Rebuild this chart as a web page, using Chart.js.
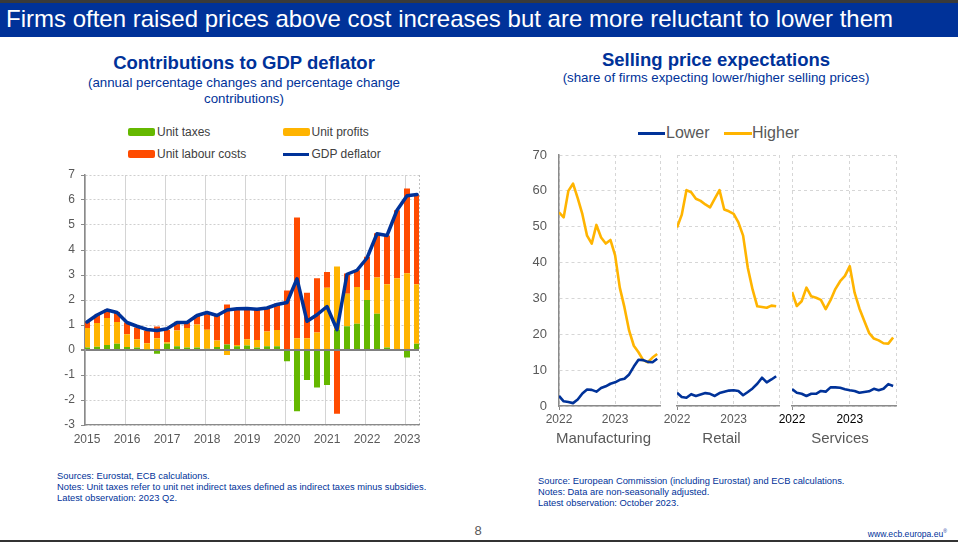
<!DOCTYPE html>
<html><head><meta charset="utf-8">
<script src="https://cdn.jsdelivr.net/npm/chart.js@4.4.0/dist/chart.umd.min.js"></script>
<style>
html,body{margin:0;padding:0;}
body{width:958px;height:542px;overflow:hidden;background:#fff;position:relative;font-family:"Liberation Sans",Arial,sans-serif;}
.a{position:absolute;white-space:nowrap;}
canvas{position:absolute;}
.t{color:#003299;}
.box{position:absolute;width:27px;height:8px;border-radius:2px;}
.lg{position:absolute;font-size:12px;color:#404040;line-height:14px;}
.lg2{position:absolute;font-size:16px;color:#595959;line-height:18px;}
.fn{position:absolute;font-size:9.35px;color:#003299;line-height:11px;white-space:nowrap;}
.pn{position:absolute;font-size:15px;color:#595959;line-height:18px;text-align:center;width:140px;}
</style></head><body>
<div class="a" style="left:0;top:0;width:958px;height:3px;background:#3a3a3a;"></div>
<div class="a" style="left:0;top:3px;width:958px;height:34px;background:#003299;"></div>
<div class="a" style="left:6px;top:5px;font-size:24px;line-height:28px;color:#fff;">Firms often raised prices above cost increases but are more reluctant to lower them</div>

<div class="a t" style="left:64px;width:360px;text-align:center;top:52px;font-size:18.5px;font-weight:bold;line-height:22px;">Contributions to GDP deflator</div>
<div class="a t" style="left:64px;width:360px;text-align:center;top:75px;font-size:13.3px;line-height:16px;white-space:normal;">(annual percentage changes and percentage change<br>contributions)</div>

<div class="a t" style="left:536px;width:360px;text-align:center;top:49px;font-size:18.5px;font-weight:bold;line-height:22px;">Selling price expectations</div>
<div class="a t" style="left:536px;width:360px;text-align:center;top:70px;font-size:13.3px;line-height:16px;">(share of firms expecting lower/higher selling prices)</div>

<div class="box" style="left:128px;top:127.5px;background:#65b800;"></div>
<div class="lg" style="left:157px;top:124.5px;">Unit taxes</div>
<div class="box" style="left:283px;top:127.5px;background:#ffb400;"></div>
<div class="lg" style="left:311.5px;top:124.5px;">Unit profits</div>
<div class="box" style="left:128px;top:150px;background:#ff4b00;"></div>
<div class="lg" style="left:157px;top:147px;">Unit labour costs</div>
<div class="a" style="left:283px;top:152.5px;width:26px;height:3px;background:#003299;"></div>
<div class="lg" style="left:311.5px;top:147px;">GDP deflator</div>

<div class="a" style="left:638px;top:131.5px;width:27px;height:3px;background:#003299;"></div>
<div class="lg2" style="left:666px;top:124px;">Lower</div>
<div class="a" style="left:724px;top:131.5px;width:28px;height:3px;background:#ffb400;"></div>
<div class="lg2" style="left:752px;top:124px;">Higher</div>

<canvas id="left" width="400" height="290" style="left:30px;top:165px;width:400px;height:290px;"></canvas>
<canvas id="p1" width="160" height="291" style="left:510px;top:145px;width:160px;height:291px;"></canvas>
<canvas id="p2" width="128" height="291" style="left:661px;top:145px;width:128px;height:291px;"></canvas>
<canvas id="p3" width="130" height="291" style="left:776px;top:145px;width:130px;height:291px;"></canvas>

<div class="pn" style="left:533.5px;top:429px;">Manufacturing</div>
<div class="pn" style="left:651.5px;top:429px;">Retail</div>
<div class="pn" style="left:770px;top:429px;">Services</div>

<div class="fn" style="left:57px;top:470.5px;">Sources: Eurostat, ECB calculations.<br>Notes: Unit taxes refer to unit net indirect taxes defined as indirect taxes minus subsidies.<br>Latest observation: 2023 Q2.</div>
<div class="fn" style="left:538px;top:475.5px;">Source: European Commission (including Eurostat) and ECB calculations.<br>Notes: Data are non-seasonally adjusted.<br>Latest observation: October 2023.</div>

<div class="a" style="left:470px;top:523px;width:16px;text-align:center;font-size:13px;line-height:16px;color:#595959;">8</div>
<div class="a" style="left:800px;width:147px;text-align:right;top:526px;font-size:8.6px;line-height:10px;color:#003299;">www.ecb.europa.eu<sup style="font-size:5px;">®</sup></div>
<div class="a" style="left:0;top:540px;width:958px;height:2px;background:#333;"></div>

<script>
// ---------- Data: contributions to GDP deflator ----------
const quarters = ["2015 Q1","2015 Q2","2015 Q3","2015 Q4","2016 Q1","2016 Q2","2016 Q3","2016 Q4",
  "2017 Q1","2017 Q2","2017 Q3","2017 Q4","2018 Q1","2018 Q2","2018 Q3","2018 Q4",
  "2019 Q1","2019 Q2","2019 Q3","2019 Q4","2020 Q1","2020 Q2","2020 Q3","2020 Q4",
  "2021 Q1","2021 Q2","2021 Q3","2021 Q4","2022 Q1","2022 Q2","2022 Q3","2022 Q4",
  "2023 Q1","2023 Q2"];
const unitTaxes = [0.10,0.13,0.20,0.25,0.12,0.10,0.03,-0.15,0.25,0.15,0.10,0.10,0.05,0.12,0.22,0.15,
  0.18,0.10,0.15,0.15,-0.45,-2.45,-1.20,-1.50,-1.40,0.80,0.95,1.05,2.00,1.45,0.10,0.00,-0.30,0.25];
const unitProfits = [0.78,0.95,1.08,0.87,0.51,0.33,0.24,0.47,0.06,0.63,0.78,0.92,0.76,0.26,-0.20,0.05,
  0.25,0.30,0.59,0.65,0.00,0.47,0.47,0.70,2.49,2.54,1.30,1.47,0.40,1.45,2.53,2.87,3.07,2.38];
const unitLabourCosts = [0.26,0.33,0.34,0.40,0.47,0.47,0.50,0.47,0.49,0.35,0.22,0.38,0.71,1.01,1.60,1.48,
  1.25,1.22,0.94,1.06,2.38,4.83,1.82,2.17,0.63,-2.55,0.81,0.67,1.33,1.77,1.95,2.72,3.39,3.59];
const gdpDeflator = [1.12,1.40,1.60,1.50,1.10,0.95,0.82,0.78,0.85,1.10,1.10,1.38,1.50,1.38,1.60,1.65,
  1.66,1.63,1.68,1.82,1.90,2.85,1.15,1.41,1.74,0.81,3.03,3.19,3.68,4.65,4.58,5.59,6.17,6.22];
const yearTicks = [2015,2016,2017,2018,2019,2020,2021,2022,2023];
const leftYTicks = [-3,-2,-1,0,1,2,3,4,5,6,7];

// ---------- Data: selling price expectations (Jan 2022 - Oct 2023) ----------
const months = ["2022-01","2022-02","2022-03","2022-04","2022-05","2022-06","2022-07","2022-08","2022-09","2022-10","2022-11","2022-12",
  "2023-01","2023-02","2023-03","2023-04","2023-05","2023-06","2023-07","2023-08","2023-09","2023-10"];
const manufLower  = [2.8,1.3,1.1,0.8,1.8,3.5,4.6,4.5,4.0,5.0,5.5,6.2,6.6,7.3,7.6,8.8,11.0,12.9,12.8,12.3,12.2,13.2];
const manufHigher = [54.0,52.6,60.0,62.0,58.0,53.5,47.5,45.3,50.5,47.0,45.3,46.3,42.0,33.0,27.5,21.0,16.8,15.0,12.8,12.2,13.5,14.5];
const retailLower  = [3.7,2.5,2.3,3.3,2.8,3.2,3.6,3.4,2.8,3.6,4.0,4.3,4.4,4.2,3.0,3.9,4.9,6.2,7.9,6.6,7.4,8.3];
const retailHigher = [49.8,53.3,60.2,59.6,57.8,57.2,56.2,55.4,57.8,60.2,54.8,54.3,53.6,51.2,47.5,38.5,32.5,27.8,27.6,27.4,28.0,27.8];
const servLower  = [4.7,3.7,3.4,2.8,3.4,3.4,4.2,4.0,5.2,5.2,5.1,4.7,4.4,4.2,3.7,3.9,4.1,4.8,4.4,4.8,6.1,5.6];
const servHigher = [31.8,27.9,29.2,33.0,30.6,30.2,29.6,27.0,29.5,32.6,34.8,36.3,39.0,31.6,27.2,23.8,20.4,18.8,18.3,17.5,17.4,19.1];
const panelYearLabels = ["2022","2023"];

// ---------- Rendering ----------
Chart.defaults.font.family = "'Liberation Sans', Arial, sans-serif";
const BLUE = '#003299', YELLOW = '#ffb400', ORANGE = '#ff4b00', GREEN = '#65b800';

const qx = quarters.map(s => { const p = s.split(' Q'); return +p[0] + (+p[1] - 1) / 4 + 0.05; });
const qpts = arr => arr.map((v, i) => ({x: qx[i], y: v}));
const XMAX_L = 2023.35;

new Chart(document.getElementById('left'), {
  type: 'bar',
  data: {datasets: [
    {type: 'line', label: 'GDP deflator', data: qpts(gdpDeflator), borderColor: BLUE, borderWidth: 3.5,
     pointRadius: 0, tension: 0, stack: 'line', order: 0, borderJoinStyle: 'round', borderCapStyle: 'round'},
    {label: 'Unit taxes', data: qpts(unitTaxes), backgroundColor: GREEN, stack: 'bars', order: 1},
    {label: 'Unit profits', data: qpts(unitProfits), backgroundColor: YELLOW, stack: 'bars', order: 1},
    {label: 'Unit labour costs', data: qpts(unitLabourCosts), backgroundColor: ORANGE, stack: 'bars', order: 1}
  ]},
  options: {
    animation: false, responsive: false, events: [],
    layout: {padding: {left: 0, top: 10, right: 11, bottom: 0}},
    plugins: {legend: {display: false}, tooltip: {enabled: false}},
    datasets: {bar: {barPercentage: 0.6, categoryPercentage: 1}},
    scales: {
      x: {type: 'linear', min: 2015, max: XMAX_L, stacked: true, offset: false,
        afterBuildTicks: s => { s.ticks = yearTicks.concat([XMAX_L]).map(v => ({value: v})); },
        afterFit: s => { s.height = 30; },
        ticks: {callback: v => Number.isInteger(v) ? String(v) : '', color: '#595959', font: {size: 12},
                padding: 7, labelOffset: 2, maxRotation: 0, autoSkip: false},
        grid: {offset: false, drawTicks: false,
               color: c => (c.tick && c.tick.value > 2023.3) ? '#c0c0c0' : '#d4d4d4', lineWidth: 1},
        border: {display: true, color: '#8a8a8a', width: 1.2,
                 dash: c => (c.tick && c.tick.value > 2023.3) ? [2, 2] : []}
      },
      y: {min: -3, max: 7, stacked: true,
        afterBuildTicks: s => { s.ticks = leftYTicks.map(v => ({value: v})); },
        afterFit: s => { s.width = 55; s.paddingTop = 0; s.paddingBottom = 0; },
        ticks: {color: '#595959', font: {size: 12}, padding: 6},
        grid: {color: c => (c.tick && c.tick.value === 0) ? '#808080' : '#cfcfcf',
               lineWidth: c => (c.tick && c.tick.value === 0) ? 2 : 1,
               drawTicks: true, tickLength: 4, tickColor: '#8a8a8a'},
        border: {display: true, color: '#8a8a8a', width: 1.5,
                 dash: c => (c.tick && c.tick.value !== 0) ? [2, 2] : []}
      }
    }
  }
});

const XMAX_R = 21.6;
function panel(id, lower, higher, first, labelColor, padLeft) {
  const pts = arr => arr.map((v, i) => ({x: i, y: v}));
  new Chart(document.getElementById(id), {
    type: 'line',
    data: {datasets: [
      {label: 'Lower', data: pts(lower), borderColor: BLUE, borderWidth: 2.6, pointRadius: 0, tension: 0, borderJoinStyle: 'round'},
      {label: 'Higher', data: pts(higher), borderColor: YELLOW, borderWidth: 2.6, pointRadius: 0, tension: 0, borderJoinStyle: 'round'}
    ]},
    options: {
      animation: false, responsive: false, events: [],
      layout: {padding: {left: padLeft, top: 10, right: 10, bottom: 0}},
      plugins: {legend: {display: false}, tooltip: {enabled: false}},
      scales: {
        x: {type: 'linear', min: 0, max: XMAX_R,
          afterBuildTicks: s => { s.ticks = [0, 12, XMAX_R].map(v => ({value: v})); },
          afterFit: s => { s.height = 30; s.paddingLeft = 0; s.paddingRight = 0; },
          ticks: {callback: v => v === 0 ? panelYearLabels[0] : (v === 12 ? panelYearLabels[1] : ''),
                  color: labelColor, font: {size: 12}, padding: 2, maxRotation: 0, autoSkip: false},
          grid: {color: '#d6d6d6', lineWidth: 1, drawTicks: true, tickLength: 4,
                 tickColor: c => (c.tick && c.tick.value === 0) ? '#8a8a8a' : 'rgba(0,0,0,0)'},
          border: {display: true, color: '#8a8a8a', width: 1.5, dash: [3, 3]}
        },
        y: {min: 0, max: 70,
          afterBuildTicks: s => { s.ticks = [0,10,20,30,40,50,60,70].map(v => ({value: v})); },
          afterFit: s => { s.width = first ? 49 : 0; s.paddingTop = 0; s.paddingBottom = 0; },
          ticks: {display: first, color: '#595959', font: {size: 13}, padding: 12},
          grid: {color: '#d6d6d6', lineWidth: 1, drawTicks: false},
          border: {display: first, color: '#8a8a8a', width: 1.5, dash: [3, 3]}
        }
      }
    }
  });
}
panel('p1', manufLower, manufHigher, true, '#595959', 0);
panel('p2', retailLower, retailHigher, false, '#595959', 16);
panel('p3', servLower, servHigher, false, '#000000', 16);
</script>
</body></html>
